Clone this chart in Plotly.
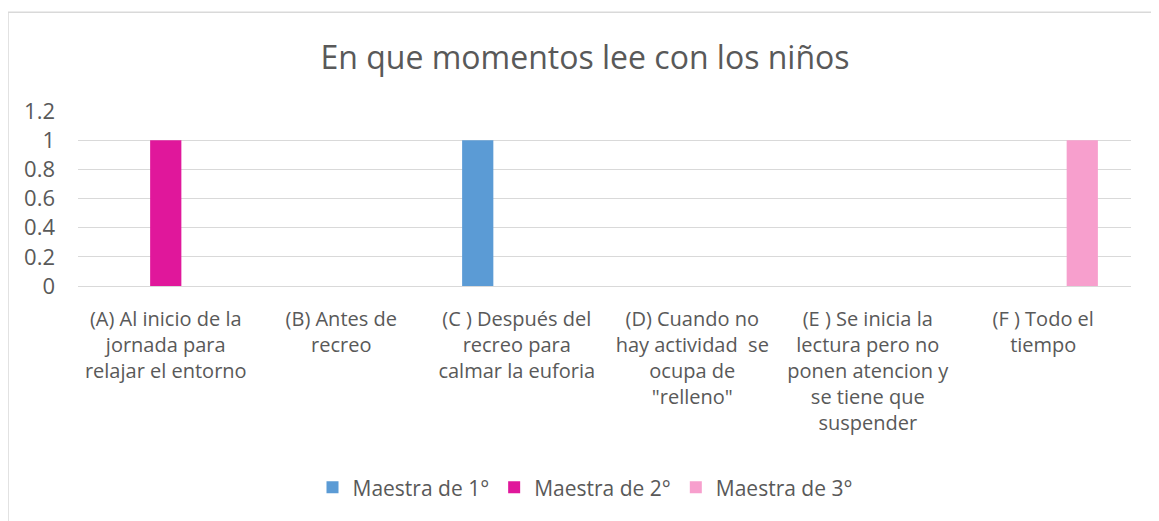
import plotly.graph_objects as go

categories = [
    "(A) Al inicio de la<br>jornada para<br>relajar el entorno",
    "(B) Antes de<br>recreo",
    "(C ) Después del<br>recreo para<br>calmar la euforia",
    "(D) Cuando no<br>hay actividad  se<br>ocupa de<br>\"relleno\"",
    "(E ) Se inicia la<br>lectura pero no<br>ponen atencion y<br>se tiene que<br>suspender",
    "(F ) Todo el<br>tiempo",
]
series_names = ["Maestra de 1°", "Maestra de 2°", "Maestra de 3°"]
maestra1 = [0, 0, 1, 0, 0, 0]
maestra2 = [1, 0, 0, 0, 0, 0]
maestra3 = [0, 0, 0, 0, 0, 1]
colors = ["#5B9BD5", "#E0179B", "#F79FCD"]

fig = go.Figure()
for name, vals, c in zip(series_names, [maestra1, maestra2, maestra3], colors):
    fig.add_trace(go.Bar(
        x=categories, y=vals, name=name,
        marker=dict(color=c, line=dict(width=0)),
    ))

# page offset (body margin) of 8px
OFF = 8
W, H = 1159 - OFF, 521 - OFF
L = 78 - OFF
T = 111 - OFF
R = W - (1131 - OFF)
B = H - (288 - OFF)
pw, ph = W - L - R, H - T - B

def px_x(p):
    return (p - OFF - L) / pw

def px_y(p):
    return (H - B - (p - OFF)) / ph

fig.update_layout(
    width=W, height=H,
    margin=dict(l=L, r=R, t=T, b=B),
    paper_bgcolor="white", plot_bgcolor="white",
    barmode="group", bargap=0.333, bargroupgap=0.2,
    font=dict(family="Open Sans", color="#595959", size=20),
    title=dict(text="En que momentos lee con los niños", xref="container", x=(585 - OFF) / W,
               xanchor="center", y=1 - (58 - OFF) / H, yanchor="middle",
               font=dict(size=32, color="#595959", family="Open Sans")),
    legend=dict(orientation="h", x=px_x(585), xanchor="center", y=px_y(492), yanchor="middle",
                font=dict(size=21, color="#595959"), traceorder="normal",
                itemwidth=30, tracegroupgap=0),
    xaxis=dict(showgrid=False, showline=False, ticks="outside", ticklen=15, tickcolor="rgba(0,0,0,0)",
               tickfont=dict(size=20, color="#595959"), automargin=False),
    yaxis=dict(range=[0, 1.2], dtick=0.2, tick0=0, showgrid=True, gridcolor="#D9D9D9", gridwidth=1,
               zeroline=True, zerolinecolor="#D9D9D9", zerolinewidth=1, showline=False,
               ticklabelstandoff=22, tickfont=dict(size=22, color="#595959"), automargin=False),
    shapes=[dict(type="rect", xref="paper", yref="paper",
                 x0=px_x(8), x1=px_x(1157), y0=px_y(540), y1=px_y(11),
                 line=dict(color="#D9D9D9", width=1.5), fillcolor="rgba(0,0,0,0)", layer="below")],
)

fig.write_html("out.html")
